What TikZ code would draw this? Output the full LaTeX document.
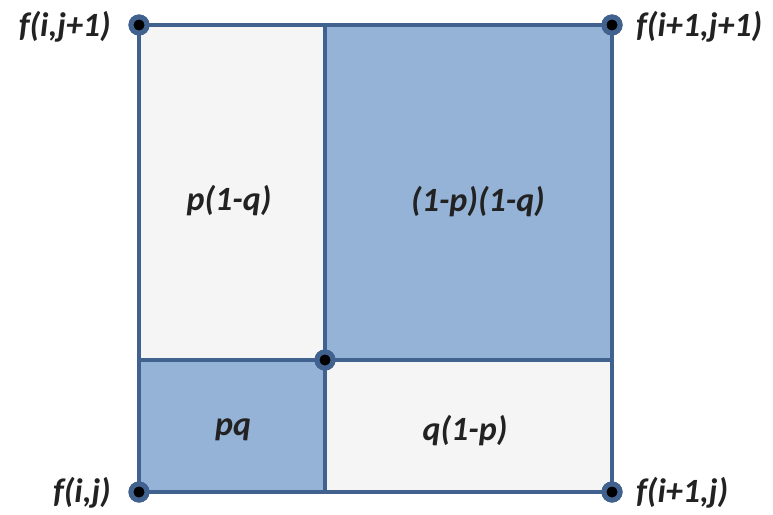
\documentclass[tikz,border=0pt]{standalone}
\usepackage{fontspec}
\setmainfont{Carlito}
\definecolor{edgeblue}{HTML}{41618E}
\definecolor{cellblue}{HTML}{95B3D7}
\definecolor{cellgray}{HTML}{F5F5F5}
\definecolor{txt}{HTML}{222222}
\begin{document}
\begin{tikzpicture}[x=1pt,y=-1pt,
  lbl/.style={font=\fontsize{34}{38}\selectfont\bfseries\itshape, text=txt, inner sep=0pt},
  edge/.style={draw=edgeblue, line width=4.5pt},
  vtx/.style={circle, fill=black, draw=edgeblue, line width=5pt, minimum size=16pt, inner sep=0pt}]
\useasboundingbox[fill=white] (0,0) rectangle (773,514);
% cells
\fill[cellgray] (139,25) rectangle (325,360);
\fill[cellblue] (325,25) rectangle (612,360);
\fill[cellblue] (139,360) rectangle (325,492);
\fill[cellgray] (325,360) rectangle (612,492);
% vertices
\coordinate (tm) at (325,25);
\coordinate (bm) at (325,492);
\coordinate (lm) at (139,360);
\coordinate (rm) at (612,360);
\node[vtx] (tl) at (139,25) {};
\node[vtx] (tr) at (612,25) {};
\node[vtx] (bl) at (139,492) {};
\node[vtx] (br) at (612,492) {};
\node[vtx] (m) at (325,360) {};
% edges
\draw[edge] (tl.center) -- (tr.center) -- (br.center) -- (bl.center) -- cycle;
\draw[edge] (tm) -- (bm);
\draw[edge] (lm) -- (rm);
% redraw vertices on top
\foreach \n in {tl,tr,bl,br,m} \node[vtx] at (\n) {};
% labels
\node[lbl, anchor=east] (ltl) at (111,27) {f(i,j+1)};
\node[lbl, anchor=west] (ltr) at (636,27) {f(i+1,j+1)};
\node[lbl, anchor=east] (lbl) at (111,493) {f(i,j)};
\node[lbl, anchor=west] (lbr) at (636,493) {f(i+1,j)};
\node[lbl] (c1) at (229,201) {p(1-q)};
\node[lbl] (c2) at (478,202) {(1-p)(1-q)};
\node[lbl] (c3) at (233,430) {pq};
\node[lbl] (c4) at (465,431) {q(1-p)};
\end{tikzpicture}
\end{document}
